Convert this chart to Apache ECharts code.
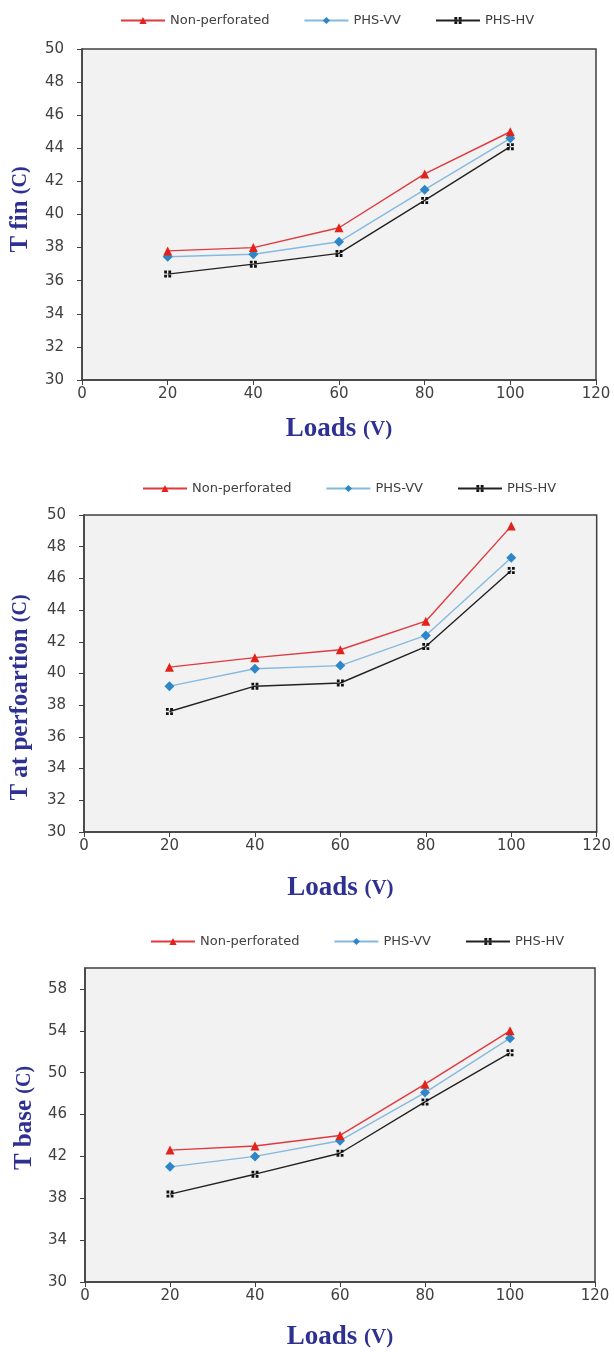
<!DOCTYPE html>
<html>
<head>
<meta charset="utf-8">
<script src="https://cdn.jsdelivr.net/npm/echarts@6/dist/echarts.min.js"></script>
<style>
html, body { margin: 0; padding: 0; background: #fff; }
#chart { width: 614px; height: 1352px; }
</style>
</head>
<body>
<div id="chart"></div>
<script>
var loads = [20, 40, 60, 80, 100];
var seriesNames = ['Non-perforated', 'PHS-VV', 'PHS-HV'];

// T fin
var finNonPerf = [37.8, 38.0, 39.2, 42.45, 45.0];
var finVV = [37.45, 37.6, 38.35, 41.5, 44.6];
var finHV = [36.4, 37.0, 37.65, 40.85, 44.1];

// T at perforation
var perfNonPerf = [40.4, 41.0, 41.5, 43.3, 49.3];
var perfVV = [39.2, 40.3, 40.5, 42.4, 47.3];
var perfHV = [37.6, 39.2, 39.4, 41.7, 46.5];

// T base
var baseNonPerf = [42.6, 43.0, 44.0, 48.9, 54.0];
var baseVV = [41.0, 42.0, 43.5, 48.1, 53.3];
var baseHV = [38.4, 40.3, 42.3, 47.2, 51.9];

(function () {
    var axisColor = '#404040';
    var titleColor = '#2e3192';
    var dots = 'path://M0,0h4v4h-4z M6,0h4v4h-4z M0,6h4v4h-4z M6,6h4v4h-4z';

    var styles = [
        {symbol: 'triangle', size: 9, color: '#e2231a', line: '#e0393e'},
        {symbol: 'diamond', size: 10, color: '#2e86c8', line: '#86b9df'},
        {symbol: dots, size: 7, color: '#111111', line: '#222222'}
    ];

    function rich(big, small) {
        return {
            a: {fontFamily: 'Liberation Serif', fontWeight: 'bold', fontSize: big, color: titleColor},
            b: {fontFamily: 'Liberation Serif', fontWeight: 'bold', fontSize: small, color: titleColor}
        };
    }

    function pairs(vals) {
        return loads.map(function (x, i) { return [x, vals[i]]; });
    }

    function makeSeries(idx, sets) {
        return sets.map(function (vals, k) {
            var s = styles[k];
            return {
                name: seriesNames[k],
                type: 'line',
                xAxisIndex: idx,
                yAxisIndex: idx,
                data: pairs(vals),
                symbol: s.symbol,
                symbolSize: s.size,
                showAllSymbol: true,
                itemStyle: {color: s.color},
                lineStyle: {color: s.line, width: 1.4},
                emphasis: {disabled: true},
                z: 3 - k
            };
        });
    }

    function xAxis(idx, gap) {
        return {
            gridIndex: idx,
            type: 'value',
            min: 0, max: 120, interval: 20,
            name: '{a|Loads }{b|(V)}',
            nameLocation: 'middle',
            nameGap: gap,
            nameTextStyle: {rich: rich(27, 21)},
            axisLine: {show: true, onZero: false, lineStyle: {color: axisColor, width: 1.5}},
            axisTick: {show: true, length: 5, lineStyle: {color: axisColor}},
            splitLine: {show: false},
            axisLabel: {color: '#404040', fontSize: 15, fontFamily: 'DejaVu Sans', margin: 7}
        };
    }

    function yAxis(idx, title, min, max, step, gap, pad) {
        return {
            gridIndex: idx,
            type: 'value',
            min: min, max: max, interval: step,
            name: '{a|' + title + ' }{b|(C)}',
            nameLocation: 'middle',
            nameGap: gap,
            nameTextStyle: {padding: pad, rich: rich(25, 20)},
            axisLine: {show: true, onZero: false, lineStyle: {color: axisColor, width: 1.5}},
            axisTick: {show: true, length: 5, lineStyle: {color: axisColor}},
            splitLine: {show: false},
            axisLabel: {color: '#404040', fontSize: 15, fontFamily: 'DejaVu Sans', margin: 18, showMaxLabel: max % step === min % step}
        };
    }

    function legend(top, left) {
        return {
            top: top, left: left,
            data: seriesNames,
            itemWidth: 44, itemHeight: 9, itemGap: 34,
            selectedMode: false,
            textStyle: {color: '#404040', fontSize: 13, fontFamily: 'DejaVu Sans'}
        };
    }

    function grid(left, top, width, height) {
        return {
            left: left, top: top, width: width, height: height,
            show: true, backgroundColor: '#f2f2f2',
            borderColor: axisColor, borderWidth: 1.5
        };
    }

    var option = {
        animation: false,
        backgroundColor: '#ffffff',
        legend: [legend(9, 115), legend(477, 137), legend(930, 145)],
        grid: [
            grid(80, 49, 516, 331),
            grid(84, 515, 519, 317),
            grid(85, 968, 510, 315)
        ],
        xAxis: [xAxis(0, 36), xAxis(1, 43), xAxis(2, 42)],
        yAxis: [
            yAxis(0, 'T fin', 30, 50, 2, 49, [0, 0, 0, 10]),
            yAxis(1, 'T at perfoartion', 30, 50, 2, 51, [0, 48, 0, 0]),
            yAxis(2, 'T base', 30, 60, 4, 44, [0, 0, 0, 14])
        ],
        series: []
            .concat(makeSeries(0, [finNonPerf, finVV, finHV]))
            .concat(makeSeries(1, [perfNonPerf, perfVV, perfHV]))
            .concat(makeSeries(2, [baseNonPerf, baseVV, baseHV]))
    };

    var myChart = echarts.init(document.getElementById('chart'));
    myChart.setOption(option);
})();
</script>
</body>
</html>
